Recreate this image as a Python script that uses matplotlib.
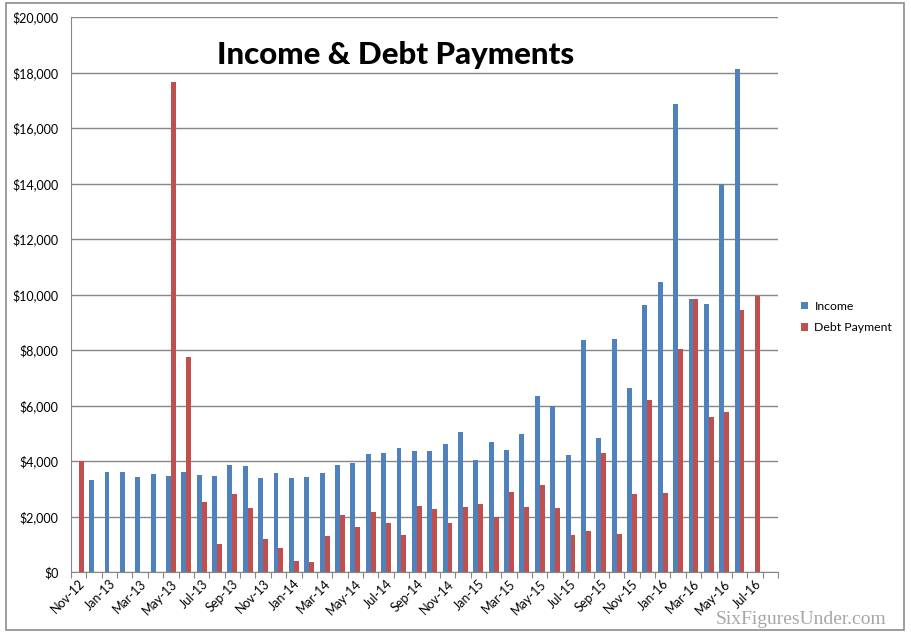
import matplotlib
matplotlib.use("Agg")
import matplotlib.pyplot as plt
import numpy as np
from matplotlib.patches import Rectangle

months = ["Nov-12", "Dec-12", "Jan-13", "Feb-13", "Mar-13", "Apr-13", "May-13", "Jun-13",
          "Jul-13", "Aug-13", "Sep-13", "Oct-13", "Nov-13", "Dec-13", "Jan-14", "Feb-14",
          "Mar-14", "Apr-14", "May-14", "Jun-14", "Jul-14", "Aug-14", "Sep-14", "Oct-14",
          "Nov-14", "Dec-14", "Jan-15", "Feb-15", "Mar-15", "Apr-15", "May-15", "Jun-15",
          "Jul-15", "Aug-15", "Sep-15", "Oct-15", "Nov-15", "Dec-15", "Jan-16", "Feb-16",
          "Mar-16", "Apr-16", "May-16", "Jun-16", "Jul-16", "Aug-16"]

income = [0, 3320, 3600, 3600, 3420, 3530, 3460, 3600,
          3500, 3460, 3860, 3820, 3390, 3570, 3390, 3420,
          3570, 3860, 3930, 4250, 4290, 4470, 4360, 4360,
          4610, 5050, 4040, 4690, 4400, 4970, 6340, 5990,
          4220, 8370, 4830, 8400, 6630, 9630, 10460, 16880,
          9850, 9670, 13970, 18140, 0, 0]

debt = [4000, 0, 0, 0, 0, 0, 17650, 7750,
        2520, 1010, 2810, 2310, 1190, 870, 400, 360,
        1300, 2050, 1620, 2160, 1770, 1330, 2380, 2270,
        1770, 2340, 2450, 1980, 2880, 2340, 3140, 2310,
        1330, 1480, 4290, 1360, 2810, 6200, 2850, 8050,
        9850, 5590, 5760, 9450, 9950, 0]

yticks = [0, 2000, 4000, 6000, 8000, 10000, 12000, 14000, 16000, 18000, 20000]

BLUE = "#4F81BD"
RED = "#C0504D"
GRID = "#868686"

fig = plt.figure(figsize=(9.11, 6.36), dpi=100)
fig.patch.set_facecolor("white")

# chart border
fig.add_artist(Rectangle((6 / 911, 1 - 630 / 636), 898 / 911, 627 / 636,
                         transform=fig.transFigure, fill=False,
                         edgecolor="#8C8C8C", linewidth=1.2))

ax = fig.add_axes([71 / 911, 1 - 572 / 636, 707 / 911, 555 / 636])
x = np.arange(len(months))
w = 0.32
ax.bar(x - w / 2, income, width=w, color=BLUE, label="Income", zorder=3)
ax.bar(x + w / 2, debt, width=w, color=RED, label="Debt Payment", zorder=3)

ax.set_xlim(-0.5, len(months) - 0.5)
ax.set_ylim(0, 20000)
ax.set_yticks(yticks)
ax.set_yticklabels(["${:,}".format(v) for v in yticks], fontsize=9,
                   family=["Lato", "DejaVu Sans"])
ax.yaxis.grid(True, color=GRID, linewidth=1.0, zorder=0)
ax.tick_params(axis="y", length=0, pad=9)

# category boundary ticks
ax.set_xticks(np.arange(-0.5, len(months)), minor=False)
ax.set_xticklabels([])
ax.tick_params(axis="x", which="major", length=4, color=GRID, direction="out")
ax.set_xticks(x[::2], minor=True)
ax.set_xticklabels(months[::2], minor=True, rotation=45, ha="right",
                   rotation_mode="anchor", fontsize=9, family=["Lato", "DejaVu Sans"])
ax.tick_params(axis="x", which="minor", length=0, pad=4)

for s in ["top", "right"]:
    ax.spines[s].set_visible(False)
ax.spines["left"].set_color(GRID)
ax.spines["bottom"].set_color(GRID)
ax.spines["left"].set_zorder(4)
ax.spines["bottom"].set_zorder(4)

fig.text(396 / 911, 1 - 55 / 636, "Income & Debt Payments", ha="center", va="center",
         fontsize=22.5, fontweight="black", family=["Lato", "DejaVu Sans"])

leg = fig.legend(loc="center left", bbox_to_anchor=(790 / 911, 1 - 317 / 636),
                 frameon=False, handlelength=0.6, handleheight=0.6,
                 handletextpad=0.5, labelspacing=0.85, prop={"family": "Lato", "size": 8.8})

fig.text(801 / 911, 1 - 620 / 636, "SixFiguresUnder.com", ha="center", va="center",
         fontsize=14, color="#A6A6A6", family=["Liberation Serif", "DejaVu Serif"])

fig.savefig("out.png", dpi=100)
